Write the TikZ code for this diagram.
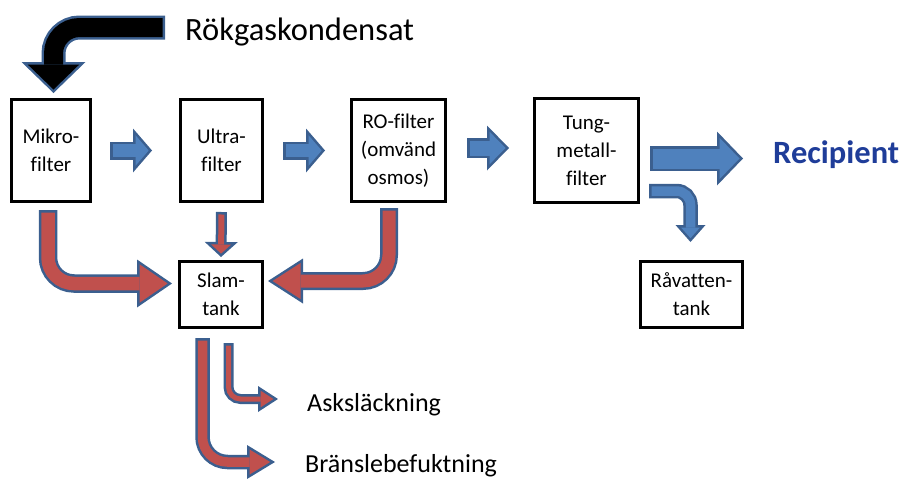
\documentclass[tikz,border=0pt]{standalone}
\usepackage{fontspec}
\setmainfont{Carlito}[Ligatures=NoCommon]
\usetikzlibrary{calc,arrows.meta}
\definecolor{flowblue}{HTML}{4F81BD}
\definecolor{flowred}{HTML}{C0504D}
\definecolor{rimblue}{HTML}{3B5F8F}
\definecolor{recblue}{HTML}{1F3D99}
\tikzset{
  unit/.style={draw, line width=3pt, inner sep=0pt, align=center,
    font=\fontsize{21}{28}\selectfont},
  outtext/.style={inner sep=0pt, anchor=base west, font=\fontsize{26}{30}\selectfont},
  rim/.style n args={3}{draw=rimblue, line width=#1,
    -{Triangle[length=#2, width=#3, line width=0pt]}},
  core/.style n args={5}{draw=#1, line width=#2, shorten <=2.5pt, shorten >=#3,
    -{Triangle[length=#4, width=#5, line width=0pt]}},
}

\begin{document}
\begin{tikzpicture}[x=1pt, y=-1pt]
  \useasboundingbox (0,0) rectangle (903,479);

  % boxes
  \node[unit, minimum width=79pt, minimum height=102pt] (mikro) at (51,150.5) {Mikro-\\filter};
  \node[unit, minimum width=82pt, minimum height=102pt] (ultra) at (221.5,150.5) {Ultra-\\filter};
  \node[unit, minimum width=94pt, minimum height=102pt] (ro) at (398.5,150.5) {RO-filter\\(omvänd\\osmos)};
  \node[unit, minimum width=104pt, minimum height=104pt] (tung) at (586.5,150.5) {Tung-\\metall-\\filter};
  \node[unit, minimum width=83pt, minimum height=66pt] (slam) at (221,294.5) {Slam-\\tank};
  \node[unit, minimum width=102pt, minimum height=66pt] (rav) at (691.5,294.5) {Råvatten-\\tank};

  % texts
  \node[outtext, font=\fontsize{32.5}{36}\selectfont] (rokgas) at (185,40) {Rökgaskondensat};
  \node[outtext, font=\fontsize{32.5}{36}\selectfont\bfseries, text=recblue] (recip) at (773,163) {Recipient};
  \node[outtext] (ask) at (307,411) {Asksläckning};
  \node[outtext] (bran) at (305,472) {Bränslebefuktning};

  \coordinate (kin) at ($(rokgas.base west)+(-20,-12.5)$);

  % inflow
  \draw[rim={24pt}{31pt}{64pt}, rounded corners=26pt] (kin) -| ($(mikro.north)+(2.5,-5)$);
  \draw[core={black}{19pt}{3.5pt}{25pt}{51.6pt}, rounded corners=26pt] (kin) -| ($(mikro.north)+(2.5,-5)$);

  % main line
  \draw[rim={18pt}{19pt}{44pt}] ($(mikro.east)+(18,0)$) -- ($(ultra.west)+(-27,0)$);
  \draw[core={flowblue}{13pt}{3.3pt}{13.2pt}{30.6pt}] ($(mikro.east)+(18,0)$) -- ($(ultra.west)+(-27,0)$);
  \draw[rim={18pt}{19pt}{44pt}] ($(ultra.east)+(19,0)$) -- ($(ro.west)+(-25,0)$);
  \draw[core={flowblue}{13pt}{3.3pt}{13.2pt}{30.6pt}] ($(ultra.east)+(19,0)$) -- ($(ro.west)+(-25,0)$);
  \draw[rim={20pt}{22pt}{45pt}] ($(ro.east)+(20,-2.5)$) -- ($(tung.west)+(-24,-2.5)$);
  \draw[core={flowblue}{15pt}{3.5pt}{16pt}{32.7pt}] ($(ro.east)+(20,-2.5)$) -- ($(tung.west)+(-24,-2.5)$);
  \draw[rim={25pt}{26pt}{54pt}] ($(tung.east)+(10,8)$) -- ($(tung.east)+(103,8)$);
  \draw[core={flowblue}{20pt}{3.5pt}{20pt}{41.5pt}] ($(tung.east)+(10,8)$) -- ($(tung.east)+(103,8)$);
  \draw[rim={14.5pt}{17pt}{30pt}, rounded corners=14pt] ($(tung.east)+(9,40.5)$) -| ($(rav.north)+(-1,-18)$);
  \draw[core={flowblue}{9.5pt}{3.8pt}{10.7pt}{18.9pt}, rounded corners=14pt] ($(tung.east)+(9,40.5)$) -| ($(rav.north)+(-1,-18)$);

  % sludge
  \draw[rim={18.5pt}{35pt}{48pt}, rounded corners=26pt] ($(mikro.south)+(-3,7)$) |- ($(slam.west)+(-6,-11)$);
  \draw[core={flowred}{13.5pt}{4.4pt}{28.1pt}{38.5pt}, rounded corners=26pt] ($(mikro.south)+(-3,7)$) |- ($(slam.west)+(-6,-11)$);
  \draw[rim={11pt}{15pt}{33pt}] ($(ultra.south)+(0,9)$) -- ($(slam.north)+(0,-3)$);
  \draw[core={flowred}{6pt}{3.4pt}{9.1pt}{20pt}] ($(ultra.south)+(0,9)$) -- ($(slam.north)+(0,-3)$);
  \draw[rim={18pt}{35pt}{45pt}, rounded corners=26pt] ($(ro.south)+(-9.5,5)$) |- ($(slam.east)+(4,-13.5)$);
  \draw[core={flowred}{13pt}{4.6pt}{27.9pt}{35.9pt}, rounded corners=26pt] ($(ro.south)+(-9.5,5)$) |- ($(slam.east)+(4,-13.5)$);
  \draw[rim={10pt}{20pt}{26pt}, rounded corners=12pt] ($(slam.south)+(7.5,14)$) |- ($(ask.base west)+(-29,-12)$);
  \draw[core={flowred}{5pt}{4.6pt}{12.9pt}{16.8pt}, rounded corners=12pt] ($(slam.south)+(7.5,14)$) |- ($(ask.base west)+(-29,-12)$);
  \draw[rim={14.5pt}{28pt}{34pt}, rounded corners=25pt] ($(slam.south)+(-18.5,9)$) |- ($(bran.base west)+(-30,-10)$);
  \draw[core={flowred}{9.5pt}{4.8pt}{20.7pt}{25.1pt}, rounded corners=25pt] ($(slam.south)+(-18.5,9)$) |- ($(bran.base west)+(-30,-10)$);
\end{tikzpicture}
\end{document}
